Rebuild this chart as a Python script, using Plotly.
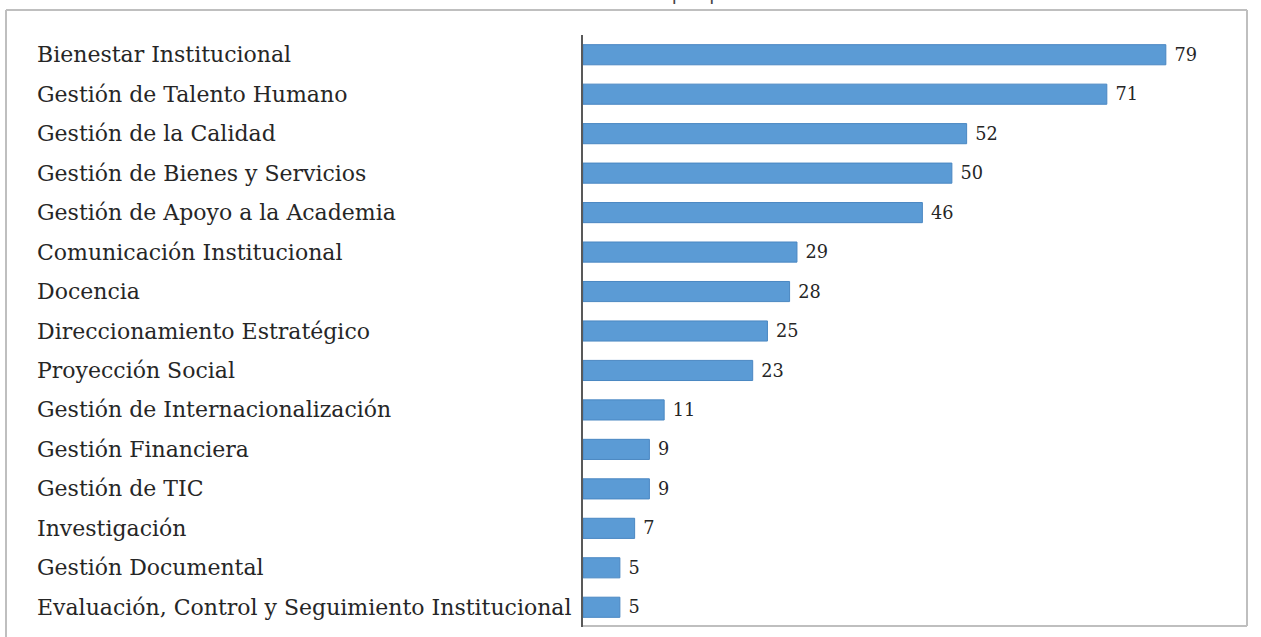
import plotly.graph_objects as go

categories = [
    "Bienestar Institucional",
    "Gestión de Talento Humano",
    "Gestión de la Calidad",
    "Gestión de Bienes y Servicios",
    "Gestión de Apoyo a la Academia",
    "Comunicación Institucional",
    "Docencia",
    "Direccionamiento Estratégico",
    "Proyección Social",
    "Gestión de Internacionalización",
    "Gestión Financiera",
    "Gestión de TIC",
    "Investigación",
    "Gestión Documental",
    "Evaluación, Control y Seguimiento Institucional",
]
values = [79, 71, 52, 50, 46, 29, 28, 25, 23, 11, 9, 9, 7, 5, 5]
title_text = "Gráfica 1. Incidentes por proceso"

W, H = 1261, 637
L, R, T, B = 583, 14, 35, 10
PW, PH = W - L - R, H - T - B


def px(x):
    return (x - L) / PW


def py(y):
    return 1 - (y - T) / PH


SERIF = "DejaVu Serif"

fig = go.Figure(
    go.Bar(
        x=values,
        y=categories,
        orientation="h",
        marker=dict(color="#5B9BD5", line=dict(color="#4A87C2", width=1)),
        text=values,
        texttemplate=" %{text}",
        textposition="outside",
        textfont=dict(family=SERIF, size=22, color="#262626"),
        cliponaxis=False,
        hoverinfo="x+y",
    )
)

annotations = []
for c in categories:
    annotations.append(
        dict(
            x=px(35), y=c, xref="paper", yref="y", text=c, showarrow=False,
            xanchor="left", yanchor="middle",
            font=dict(family=SERIF, size=22, color="#262626"),
        )
    )
annotations.append(
    dict(
        x=px(630), y=py(7), xref="paper", yref="paper", text=title_text,
        showarrow=False, xanchor="center", yanchor="bottom",
        font=dict(family="Open Sans", size=20, color="#444444"),
    )
)

line_col = "#BFBFBF"
shapes = [
    dict(type="line", xref="paper", yref="paper", x0=px(6), x1=px(1247), y0=py(10), y1=py(10),
         line=dict(color=line_col, width=2)),
    dict(type="line", xref="paper", yref="paper", x0=px(6), x1=px(6), y0=py(10), y1=py(645),
         line=dict(color=line_col, width=2)),
    dict(type="line", xref="paper", yref="paper", x0=px(1247), x1=px(1247), y0=py(10), y1=py(626),
         line=dict(color=line_col, width=2)),
    dict(type="line", xref="paper", yref="paper", x0=px(583), x1=px(1247), y0=py(626), y1=py(626),
         line=dict(color=line_col, width=2)),
]

fig.update_layout(
    width=W, height=H,
    margin=dict(l=L, r=R, t=T, b=B, pad=0),
    paper_bgcolor="white", plot_bgcolor="white",
    showlegend=False,
    bargap=0.49,
    xaxis=dict(range=[0, 90], showgrid=False, zeroline=False, showticklabels=False,
               showline=False, fixedrange=True),
    yaxis=dict(autorange="reversed", showticklabels=False, showgrid=False, zeroline=False,
               showline=True, linecolor="#595959", linewidth=2, ticks="", fixedrange=True),
    annotations=annotations,
    shapes=shapes,
)

fig.write_html(
    "out.html",
    config={"displayModeBar": False},
    post_script="document.body.style.margin='0';document.body.style.overflow='hidden';",
)
